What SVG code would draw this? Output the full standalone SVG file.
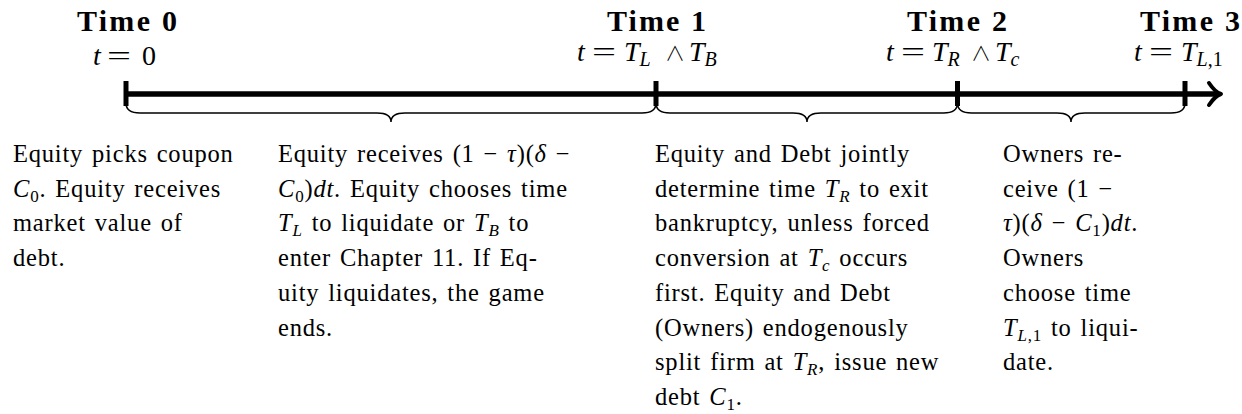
<svg xmlns="http://www.w3.org/2000/svg" width="1242" height="414" viewBox="0 0 1242 414">
<style>
  text { font-family: "Liberation Serif", "DejaVu Serif", serif; fill: #000; }
  .hd { font-weight: bold; font-size: 30px; }
  .mt { font-size: 28px; }
  .bd { font-size: 24.5px; letter-spacing: 0.8px; word-spacing: 2px; }
  .i { font-style: italic; }
  .hs { font-size: 20px; }
  .bs { font-size: 17px; }
  .wedge { font-family: "Noto Sans CJK SC", "DejaVu Sans", sans-serif; font-weight: 300; font-size: 20px; }
  .axis { stroke: #000; stroke-width: 5.5; fill: none; }
  .tick { stroke: #000; stroke-width: 5; fill: none; }
  .brace { stroke: #000; stroke-width: 1.5; fill: none; }
  .arrow { stroke: #000; stroke-width: 4; fill: none; stroke-linecap: round; stroke-linejoin: round; }
</style>
<rect width="1242" height="414" fill="#fff"/>

<g id="connectors">
  <line class="axis" x1="124" y1="94" x2="1218" y2="94"/>
  <path class="arrow" d="M1209,83 C1213,89 1216,92.5 1221,94 C1216,95.5 1213,99 1209,105"/>
  <line class="tick" x1="126" y1="81" x2="126" y2="106"/>
  <line class="tick" x1="656" y1="81" x2="656" y2="106"/>
  <line class="tick" x1="957.5" y1="81" x2="957.5" y2="106"/>
  <line class="tick" x1="1185" y1="81" x2="1185" y2="106"/>
  <path class="brace" d="M126,103 Q126,113 140,113 L377,113 Q391,113 391,122 Q391,113 405,113 L642,113 Q656,113 656,103"/>
  <path class="brace" d="M656,103 Q656,113 670,113 L793,113 Q807,113 807,122 Q807,113 821,113 L943.5,113 Q957.5,113 957.5,103"/>
  <path class="brace" d="M957.5,103 Q957.5,113 971.5,113 L1057,113 Q1071,113 1071,122 Q1071,113 1085,113 L1171,113 Q1185,113 1185,103"/>
</g>

<g id="time0">
  <text class="hd" x="77" y="31" textLength="100" lengthAdjust="spacing">Time 0</text>
  <text class="mt" y="65"><tspan class="i" x="93">t</tspan><tspan x="107" textLength="24" lengthAdjust="spacingAndGlyphs">=</tspan><tspan x="142">0</tspan></text>
</g>
<g id="time1">
  <text class="hd" x="607" y="31" textLength="99" lengthAdjust="spacing">Time 1</text>
  <text class="mt" y="61"><tspan class="i" x="577">t</tspan><tspan x="592" textLength="24" lengthAdjust="spacingAndGlyphs">=</tspan><tspan class="i" x="624">T</tspan><tspan class="hs i" dy="5">L</tspan><tspan class="wedge" x="665" dy="-5">∧</tspan><tspan class="i" x="689">T</tspan><tspan class="hs i" dy="5">B</tspan></text>
</g>
<g id="time2">
  <text class="hd" x="907" y="31" textLength="100" lengthAdjust="spacing">Time 2</text>
  <text class="mt" y="61"><tspan class="i" x="886">t</tspan><tspan x="901" textLength="24" lengthAdjust="spacingAndGlyphs">=</tspan><tspan class="i" x="932">T</tspan><tspan class="hs i" dy="5">R</tspan><tspan class="wedge" x="971" dy="-5">∧</tspan><tspan class="i" x="995">T</tspan><tspan class="hs i" dy="5">c</tspan></text>
</g>
<g id="time3">
  <text class="hd" x="1140" y="31" textLength="100" lengthAdjust="spacing">Time 3</text>
  <text class="mt" y="61"><tspan class="i" x="1134">t</tspan><tspan x="1149" textLength="24" lengthAdjust="spacingAndGlyphs">=</tspan><tspan class="i" x="1181">T</tspan><tspan class="hs" dy="5"><tspan class="i">L</tspan>,1</tspan></text>
</g>

<g id="desc0">
  <text class="bd" x="13" y="162">Equity picks coupon</text>
  <text class="bd" x="13" y="196.7"><tspan class="i">C</tspan><tspan class="bs" dy="5">0</tspan><tspan dy="-5">. Equity receives</tspan></text>
  <text class="bd" x="13" y="231.4">market value of</text>
  <text class="bd" x="13" y="266.1">debt.</text>
</g>

<g id="desc1">
  <text class="bd" x="278" y="162">Equity receives (1 − <tspan class="i">τ</tspan>)(<tspan class="i">δ</tspan> −</text>
  <text class="bd" x="278" y="196.7"><tspan class="i">C</tspan><tspan class="bs" dy="5">0</tspan><tspan dy="-5">)</tspan><tspan class="i">dt</tspan>. Equity chooses time</text>
  <text class="bd" x="278" y="231.4"><tspan class="i">T</tspan><tspan class="bs i" dy="5">L</tspan><tspan dy="-5"> to liquidate or </tspan><tspan class="i">T</tspan><tspan class="bs i" dy="5">B</tspan><tspan dy="-5"> to</tspan></text>
  <text class="bd" x="278" y="266.1">enter Chapter 11. If Eq-</text>
  <text class="bd" x="278" y="300.8">uity liquidates, the game</text>
  <text class="bd" x="278" y="335.5">ends.</text>
</g>

<g id="desc2">
  <text class="bd" x="655" y="162">Equity and Debt jointly</text>
  <text class="bd" x="655" y="196.7">determine time <tspan class="i">T</tspan><tspan class="bs i" dy="5">R</tspan><tspan dy="-5"> to exit</tspan></text>
  <text class="bd" x="655" y="231.4">bankruptcy, unless forced</text>
  <text class="bd" x="655" y="266.1">conversion at <tspan class="i">T</tspan><tspan class="bs i" dy="5">c</tspan><tspan dy="-5"> occurs</tspan></text>
  <text class="bd" x="655" y="300.8">first. Equity and Debt</text>
  <text class="bd" x="655" y="335.5">(Owners) endogenously</text>
  <text class="bd" x="655" y="370.2">split firm at <tspan class="i">T</tspan><tspan class="bs i" dy="5">R</tspan><tspan dy="-5">, issue new</tspan></text>
  <text class="bd" x="655" y="404.9">debt <tspan class="i">C</tspan><tspan class="bs" dy="5">1</tspan><tspan dy="-5">.</tspan></text>
</g>

<g id="desc3">
  <text class="bd" x="1003" y="162">Owners re-</text>
  <text class="bd" x="1003" y="196.7">ceive (1 −</text>
  <text class="bd" x="1003" y="231.4"><tspan class="i">τ</tspan>)(<tspan class="i">δ</tspan> − <tspan class="i">C</tspan><tspan class="bs" dy="5">1</tspan><tspan dy="-5">)</tspan><tspan class="i">dt</tspan>.</text>
  <text class="bd" x="1003" y="266.1">Owners</text>
  <text class="bd" x="1003" y="300.8">choose time</text>
  <text class="bd" x="1003" y="335.5"><tspan class="i">T</tspan><tspan class="bs" dy="5"><tspan class="i">L</tspan>,1</tspan><tspan dy="-5"> to liqui-</tspan></text>
  <text class="bd" x="1003" y="370.2">date.</text>
</g>
</svg>
